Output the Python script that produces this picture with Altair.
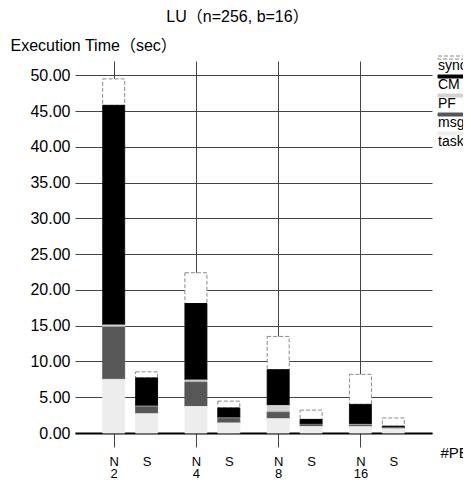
import altair as alt
import pandas as pd

# ---- data ----
bars = ["N2", "S2", "N4", "S4", "N8", "S8", "N16", "S16"]
components = ["sync", "CM", "PF", "msg", "task"]  # legend order, top to bottom
task = [7.5, 2.7, 3.7, 1.4, 2.0, 0.9, 0.9, 0.6]
msg = [7.3, 0.95, 3.4, 0.6, 0.9, 0.25, 0.2, 0.05]
pf = [0.3, 0.1, 0.3, 0.1, 0.95, 0.05, 0.1, 0.05]
cm = [30.7, 3.95, 10.7, 1.4, 5.0, 0.7, 2.8, 0.25]
sync = [3.7, 0.85, 4.3, 0.95, 4.65, 1.3, 4.2, 1.15]
y_ticks = [0, 5, 10, 15, 20, 25, 30, 35, 40, 45, 50]

# ---- styles ----
fills = ["#ffffff", "#000000", "#d2d2d2", "#575757", "#ededed"]
strokes = ["#8a8a8a", "#000000", "#d2d2d2", "#575757", "#ededed"]
dashes = [[4, 2], [1, 0], [1, 0], [1, 0], [1, 0]]
FONT = "Liberation Sans, Arial, Noto Sans CJK JP"
GRID = "#444444"

series = {"task": task, "msg": msg, "PF": pf, "CM": cm, "sync": sync}
stack_order = {c: i for i, c in enumerate(reversed(components))}
rows = []
for i, b in enumerate(bars):
    for c in components:
        rows.append({"bar": b, "component": c, "value": series[c][i],
                     "stackorder": stack_order[c]})
df = pd.DataFrame(rows)

# positional slots: N, gap, S, gap, gap, N, ... (with spacer slots at both ends)
slots = ["_p1", "_p2"]
for i in range(0, len(bars), 2):
    if i > 0:
        slots += [f"_{i}a", f"_{i}b"]
    slots += [bars[i], f"_{i}c", bars[i + 1]]
slots += ["_q1", "_q2"]

is_n = "indexof(datum.value,'N')===0"

leg = alt.Legend(
    title=None, orient="none", legendX=347, legendY=-3,
    symbolType="M1.07,-1.33L5.07,-1.33L5.07,-0.93L1.07,-0.93Z", symbolSize=225,
    symbolStrokeWidth=1, symbolOffset=0, labelOffset=0,
    labelFontSize=14, labelBaseline="middle", rowPadding=0, padding=0,
    labelColor="black", labelFont=FONT,
)

chart = alt.Chart(df).mark_bar(size=22, strokeWidth=1).encode(
    x=alt.X(
        "bar:N",
        scale=alt.Scale(type="point", domain=slots, padding=0.35),
        axis=alt.Axis(
            values=bars,
            labelExpr=f"{is_n} ? ['N', substring(datum.value,1)] : 'S'",
            labelAngle=0, labelFontSize=13, labelLineHeight=12,
            labelBaseline="top", labelPadding=8, labelColor="black",
            tickSize=14, tickColor=GRID,
            tickOpacity={"condition": {"test": is_n, "value": 1}, "value": 0},
            grid=True, gridColor=GRID,
            gridOpacity={"condition": {"test": is_n, "value": 1}, "value": 0},
            domainColor="black", domainWidth=2,
            title="#PE", titleX=365, titleY=24, titleAlign="left",
            titleBaseline="alphabetic", titleFontWeight="normal",
            titleFontSize=15, titleColor="black",
        ),
    ),
    y=alt.Y(
        "value:Q", stack="zero",
        scale=alt.Scale(domain=[0, 52], nice=False),
        axis=alt.Axis(
            values=y_ticks, format=".2f", ticks=False, domain=False,
            labelPadding=5, labelFontSize=16, labelColor="black",
            gridColor=GRID,
            title="Execution Time（sec）", titleAngle=0, titleAlign="left",
            titleBaseline="alphabetic", titleX=-65, titleY=-11,
            titleFontWeight="normal", titleFontSize=16, titleColor="black",
        ),
    ),
    fill=alt.Fill("component:N", scale=alt.Scale(domain=components, range=fills), legend=leg),
    stroke=alt.Stroke("component:N", scale=alt.Scale(domain=components, range=strokes), legend=leg),
    strokeDash=alt.StrokeDash("component:N", scale=alt.Scale(domain=components, range=dashes), legend=leg),
    order=alt.Order("stackorder:Q"),
).properties(
    width=357, height=372,
    title=alt.Title("LU（n=256, b=16）", anchor="middle", frame="group", dx=-16,
                    fontSize=16, fontWeight="normal", color="black", offset=12),
    autosize=alt.AutoSizeParams(type="none"),
    padding={"left": 67, "top": 53, "right": 31, "bottom": 47},
).configure(font=FONT).configure_view(stroke=None)

chart.save("out.html", embed_options={"renderer": "svg", "actions": False})
